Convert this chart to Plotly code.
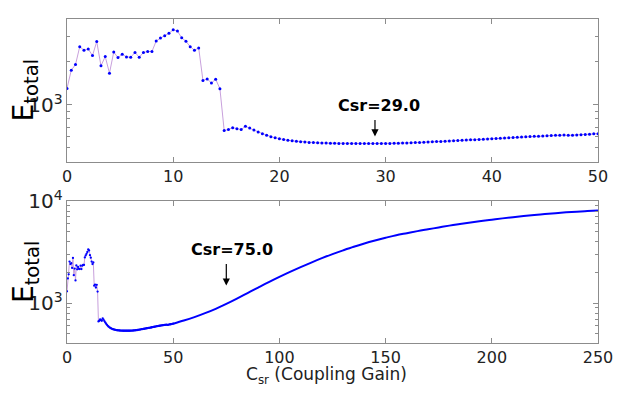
import plotly.graph_objects as go

# ---------------- data ----------------
# E_total sampled every 0.4 of Csr, from 0 to 50
e_fine = [
    1306, 1750, 1919, 2559, 2418, 2468, 2216, 2778, 1880, 2182,
    1671, 2345, 2148, 2262, 2171, 2160, 2333, 2160, 2333, 2369,
    2369, 2806, 2940, 3047, 3175, 3360, 3290, 2954, 2792, 2559,
    2418, 2507, 1485, 1523, 1425, 1515, 1299, 663, 673, 694,
    681, 673, 709, 691, 668, 648, 630, 614, 600, 589,
    580, 573, 566, 561, 557, 553, 550, 547, 545, 543,
    542, 541, 540, 539, 538, 538, 537, 537, 537, 537,
    537, 537, 537, 537, 537, 538, 538, 539, 540, 541,
    542, 543, 545, 546, 548, 550, 552, 554, 556, 558,
    560, 562, 564, 566, 568, 570, 572, 574, 576, 578,
    581, 583, 585, 588, 590, 593, 595, 597, 599, 601,
    603, 605, 607, 609, 611, 613, 614, 616, 613, 614,
    617, 619, 622, 625, 628, 630,
]
csr_fine = [round(0.4 * i, 1) for i in range(len(e_fine))]

# E_total for the wide sweep (50 .. 250)
csr_coarse = [50, 55, 60, 65, 70, 75, 80, 85, 90, 95,
              100, 105, 110, 115, 120, 125, 130, 135, 140, 145,
              150, 155, 160, 165, 170, 175, 180, 185, 190, 195,
              200, 205, 210, 215, 220, 225, 230, 235, 240, 245, 250]
e_coarse = [630, 676, 731, 798, 881, 984, 1109, 1256, 1422, 1607,
            1807, 2023, 2254, 2500, 2761, 3027, 3296, 3573, 3846, 4111,
            4375, 4634, 4853, 5082, 5297, 5521, 5754, 5970, 6180, 6383,
            6577, 6776, 6966, 7145, 7311, 7464, 7621, 7762, 7889, 7998, 8110]

top_x_ticks = [0, 10, 20, 30, 40, 50]
bot_x_ticks = [0, 50, 100, 150, 200, 250]

FONT = "DejaVu Sans"
LINE_C = "rgb(200,160,220)"
MARK_C = "#0000ff"
AX_C = "#8c8c8c"

fig = go.Figure()

fig.add_trace(go.Scatter(
    x=csr_fine, y=e_fine, mode="lines+markers",
    line=dict(color=LINE_C, width=1),
    marker=dict(color=MARK_C, size=3, line=dict(width=0)),
    xaxis="x", yaxis="y", showlegend=False))

fig.add_trace(go.Scatter(
    x=csr_fine, y=e_fine, mode="lines+markers",
    line=dict(color=LINE_C, width=1),
    marker=dict(color=MARK_C, size=2.3, line=dict(width=0)),
    xaxis="x2", yaxis="y2", showlegend=False))

fig.add_trace(go.Scatter(
    x=csr_coarse, y=e_coarse, mode="lines",
    line=dict(color=MARK_C, width=2, shape="spline"),
    xaxis="x2", yaxis="y2", showlegend=False))

axis_common = dict(
    showline=True, linecolor=AX_C, linewidth=1.3, mirror="allticks",
    ticks="inside", ticklen=5, tickcolor=AX_C, tickwidth=1,
    showgrid=False, zeroline=False,
    tickfont=dict(family=FONT, size=16, color="#222"),
)

fig.update_layout(
    width=631, height=393,
    margin=dict(l=67, r=33, t=5, b=50),
    paper_bgcolor="white", plot_bgcolor="white",
    xaxis=dict(domain=[0, 1], range=[0, 50], tickvals=top_x_ticks,
               anchor="y", **axis_common),
    yaxis=dict(domain=[0.5592, 1], type="log", range=[2.602, 3.602],
               dtick=1, exponentformat="power", anchor="x",
               minor=dict(ticks="inside", ticklen=3, tickcolor=AX_C, dtick="D1"),
               **axis_common),
    xaxis2=dict(domain=[0, 1], range=[0, 250], tickvals=bot_x_ticks,
                anchor="y2", **axis_common),
    yaxis2=dict(domain=[0, 0.4379], type="log", range=[2.61, 4.0],
                dtick=1, exponentformat="power", anchor="x2",
                minor=dict(ticks="inside", ticklen=3, tickcolor=AX_C, dtick="D1"),
                **axis_common),
)

annots = [
    # arrows
    dict(x=29, y=2.779, xref="x", yref="y", text="", showarrow=True,
         ax=0, ay=-18, arrowhead=2, arrowsize=1.2, arrowwidth=1.2, arrowcolor="black"),
    dict(x=75, y=3.1724, xref="x2", yref="y2", text="", showarrow=True,
         ax=0, ay=-23, arrowhead=2, arrowsize=1.2, arrowwidth=1.2, arrowcolor="black"),
    # labels
    dict(x=29.4, y=2.993, xref="x", yref="y", text="<b>Csr=29.0</b>", showarrow=False,
         font=dict(family=FONT, size=16, color="black"), xanchor="center", yanchor="middle"),
    dict(x=77.7, y=3.522, xref="x2", yref="y2", text="<b>Csr=75.0</b>", showarrow=False,
         font=dict(family=FONT, size=16, color="black"), xanchor="center", yanchor="middle"),
    # axis titles
    dict(x=0, y=0.7796, xref="paper", yref="paper", xshift=-42, text="E<sub>total</sub>",
         textangle=-90, showarrow=False, xanchor="center", yanchor="middle",
         font=dict(family=FONT, size=28, color="black")),
    dict(x=0, y=0.2189, xref="paper", yref="paper", xshift=-42, text="E<sub>total</sub>",
         textangle=-90, showarrow=False, xanchor="center", yanchor="middle",
         font=dict(family=FONT, size=28, color="black")),
    dict(x=0.5, y=-0.10, xref="paper", yref="paper", xshift=-6,
         text="C<sub>sr</sub> (Coupling Gain)", showarrow=False,
         xanchor="center", yanchor="middle",
         font=dict(family=FONT, size=17, color="#222")),
]
fig.update_layout(annotations=annots)

fig.write_html("out.html")
